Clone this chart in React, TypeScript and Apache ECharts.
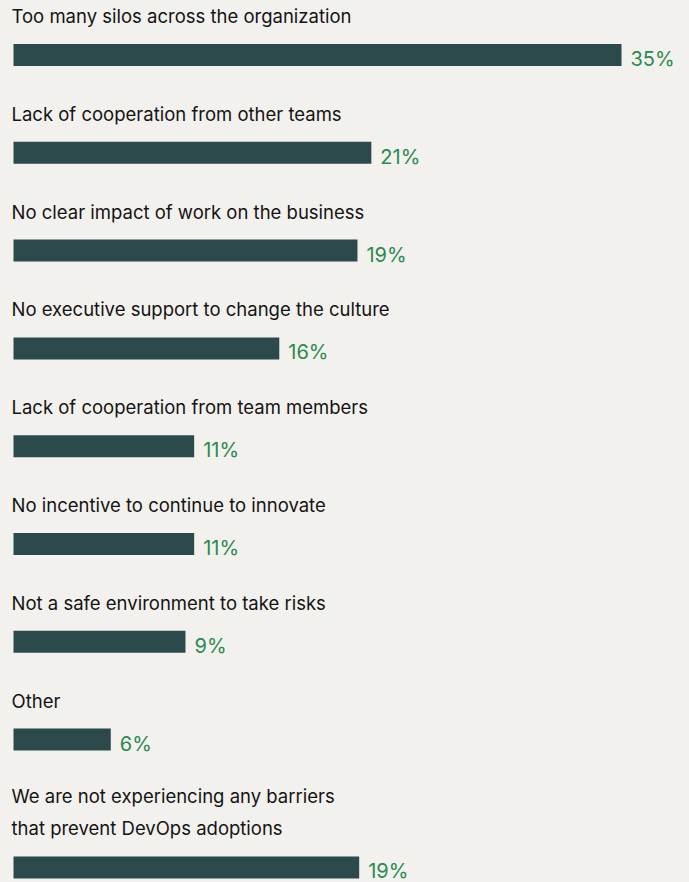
import React, { useEffect, useRef } from "react";
import * as echarts from "echarts";

const categories = [
  "Too many silos across the organization",
  "Lack of cooperation from other teams",
  "No clear impact of work on the business",
  "No executive support to change the culture",
  "Lack of cooperation from team members",
  "No incentive to continue to innovate",
  "Not a safe environment to take risks",
  "Other",
  "We are not experiencing any barriers\nthat prevent DevOps adoptions",
];
// printed shares (%)
const shares = [35, 21, 19, 16, 11, 11, 9, 6, 19];
// bar lengths as drawn in the picture (percent units)
const barLengths = [35, 20.6, 19.8, 15.3, 10.4, 10.4, 9.9, 5.6, 19.9];

const BG = "#f2f1ed";
const BAR = "#2c494c";
const GREEN = "#2a8a50";
const TEXT = "#141414";
const FONT = "Inter, 'Noto Sans', sans-serif";

export default function App() {
  const ref = useRef<HTMLDivElement>(null);
  useEffect(() => {
    if (!ref.current) return;
    const chart = echarts.init(ref.current, undefined, { renderer: "svg" });
    const n = categories.length;
    const grids: any[] = [];
    const xAxes: any[] = [];
    const yAxes: any[] = [];
    const series: any[] = [];
    for (let i = 0; i < n; i++) {
      const top = 44 + i * 97.8 + (i === n - 1 ? 30 : 0);
      grids.push({ left: 13.5, top, width: 608, height: 22 });
      xAxes.push({ type: "value", gridIndex: i, min: 0, max: 35, show: false });
      yAxes.push({
        type: "category",
        gridIndex: i,
        data: [categories[i]],
        axisLine: { show: false },
        axisTick: { show: false },
        axisLabel: { show: false },
        splitLine: { show: false },
        name: categories[i],
        nameLocation: "end",
        nameGap: 12,
        nameTextStyle: {
          align: "left",
          verticalAlign: "bottom",
          color: TEXT,
          fontSize: 18.5,
          fontFamily: FONT,
          lineHeight: 32,
          padding: [0, 0, 0, -2],
        },
      });
      series.push({
        type: "bar",
        xAxisIndex: i,
        yAxisIndex: i,
        barWidth: 22,
        itemStyle: { color: BAR },
        data: [barLengths[i]],
        label: {
          show: true,
          position: "right",
          distance: 9,
          offset: [0, 4],
          color: GREEN,
          fontSize: 20,
          fontFamily: FONT,
          formatter: () => `${shares[i]}%`,
        },
      });
    }
    chart.setOption({
      animation: false,
      backgroundColor: BG,
      grid: grids,
      xAxis: xAxes,
      yAxis: yAxes,
      series,
    });
    return () => chart.dispose();
  }, []);
  return (
    <div
      ref={ref}
      style={{ position: "fixed", left: 0, top: 0, width: 689, height: 882, background: BG }}
    />
  );
}
